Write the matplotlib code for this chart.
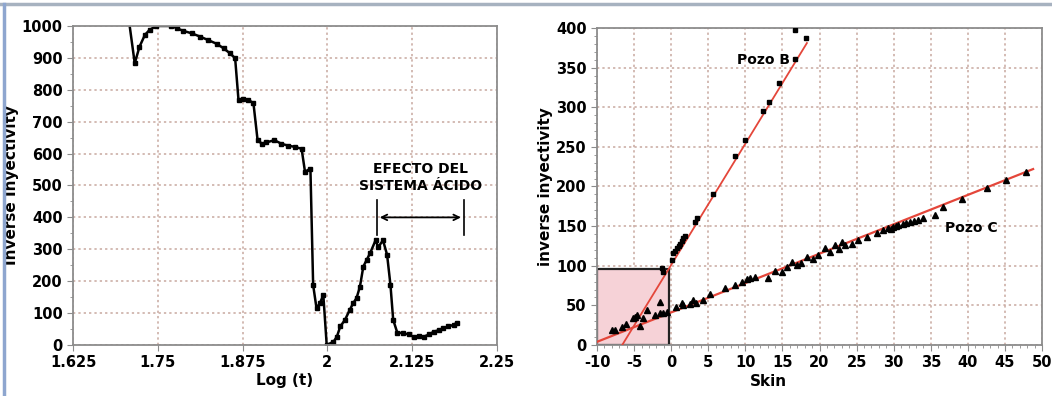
import matplotlib
matplotlib.use("Agg")
import matplotlib.pyplot as plt
from matplotlib.ticker import AutoMinorLocator, MultipleLocator
from matplotlib.lines import Line2D
from matplotlib.patches import Rectangle

plt.rcParams['font.family'] = ['Liberation Sans Narrow', 'DejaVu Sans']
plt.rcParams['axes.unicode_minus'] = False

# left panel: inverse injectivity vs log(t)
log_t = [1.706, 1.716, 1.723, 1.731, 1.738, 1.748, 1.770, 1.778, 1.787, 1.800,
         1.812, 1.824, 1.837, 1.847, 1.856, 1.864, 1.869, 1.876, 1.883, 1.891,
         1.897, 1.903, 1.910, 1.922, 1.932, 1.942, 1.952, 1.962, 1.967, 1.975,
         1.979, 1.984, 1.989, 1.994, 1.999, 2.009, 2.014, 2.019, 2.026, 2.033,
         2.038, 2.043, 2.048, 2.053, 2.058, 2.063, 2.071, 2.075, 2.082, 2.088,
         2.093, 2.097, 2.103, 2.112, 2.120, 2.127, 2.135, 2.142, 2.150, 2.157,
         2.164, 2.171, 2.178, 2.186, 2.191]
inv_inj = [1040, 883, 935, 972, 988, 1000, 1000, 993, 985, 977,
           967, 956, 944, 930, 915, 899, 767, 771, 769, 758,
           644, 631, 635, 642, 631, 625, 621, 615, 543, 553,
           188, 115, 131, 157, 0, 10, 26, 58, 79, 110,
           131, 147, 183, 246, 267, 288, 328, 307, 328, 283,
           188, 79, 39, 37, 33, 26, 28, 26, 33, 42,
           46, 52, 58, 63, 70]

left_xticks = [1.625, 1.75, 1.875, 2.0, 2.125, 2.25]
left_xlabels = ['1.625', '1.75', '1.875', '2', '2.125', '2.25']

# right panel: inverse injectivity vs skin
skin_b = [-1.2, -1.1, 0.1, 0.3, 0.5, 0.8, 1.0, 1.2, 1.4, 1.6, 1.9, 3.2, 3.5,
          5.6, 8.6, 10.0, 12.4, 13.2, 14.5, 16.7, 16.7, 18.2]
inv_b = [97, 92, 107, 116, 119, 123, 125, 128, 131, 135, 138, 155, 160,
         190, 238, 259, 295, 307, 330, 361, 397, 387]

skin_c = [-8.0, -7.6, -6.6, -6.1, -5.1, -4.9, -4.6, -4.2, -3.8, -3.3, -2.2,
          -1.5, -1.5, -1.1, -0.6, 0.6, 1.5, 1.6, 2.5, 2.9, 3.3, 4.3, 5.2,
          7.3, 8.6, 9.5, 10.2, 10.6, 11.3, 13.0, 14.0, 14.9, 15.6, 16.3, 16.9,
          17.5, 18.3, 19.1, 19.8, 20.7, 21.4, 22.1, 22.6, 23.0, 23.4, 24.4,
          25.2, 26.4, 27.7, 28.5, 29.2, 29.6, 29.9, 30.3, 30.6, 31.2, 31.7,
          32.2, 32.8, 33.3, 33.9, 35.6, 36.6, 39.2, 42.6, 45.1, 47.8]
inv_c = [19, 19, 23, 26, 34, 35, 38, 24, 34, 44, 38,
         40, 54, 40, 42, 48, 53, 50, 52, 57, 53, 57, 64,
         72, 76, 80, 83, 84, 86, 84, 94, 92, 98, 105, 101,
         104, 111, 109, 113, 122, 117, 126, 121, 130, 126, 128,
         132, 136, 141, 145, 147, 146, 149, 150, 151, 153, 154,
         155, 157, 158, 160, 164, 174, 184, 198, 208, 218]

fit_b_x = [-6.6, 18.3]
fit_b_y = [0, 381]
fit_c_x = [-10, 48.8]
fit_c_y = [4, 222]

grid_color = '#c8a89f'
spine_color = '#8c8c8c'
red = '#e4463a'

fig = plt.figure(figsize=(10.52, 3.96), dpi=100)

# decorative frame of the original page
fig.add_artist(Line2D([0, 1], [0.99, 0.99], color='#a7b2c0', lw=2.5))
fig.add_artist(Line2D([0.004, 0.004], [0, 0.99], color='#8ea6cf', lw=2.5))

# ---- left panel
ax1 = fig.add_axes([0.0694, 0.1288, 0.403, 0.8056])
ax1.plot(log_t, inv_inj, color='black', lw=1.8, marker='s', ms=3.2)
ax1.set_xlim(1.625, 2.25)
ax1.set_ylim(0, 1000)
ax1.set_xticks(left_xticks)
ax1.set_xticklabels(left_xlabels)
ax1.yaxis.set_major_locator(MultipleLocator(100))
ax1.yaxis.set_minor_locator(AutoMinorLocator(2))
ax1.set_xlabel('Log (t)', fontsize=11, fontweight='bold')
ax1.xaxis.set_label_coords(0.5, -0.088)
ax1.set_ylabel('Inverse Inyectivity', fontsize=11, fontweight='bold',
               family=['DejaVu Sans'])
ax1.yaxis.set_label_coords(-0.128, 0.5)

# effect of the acid system
ax1.annotate('', xy=(2.073, 400), xytext=(2.201, 400),
             arrowprops=dict(arrowstyle='<->', color='black', lw=1.3))
ax1.plot([2.073, 2.073], [345, 455], color='black', lw=1.2)
ax1.plot([2.201, 2.201], [345, 455], color='black', lw=1.2)
ax1.text(2.137, 525, 'EFECTO DEL\nSISTEMA ÁCIDO', ha='center', va='center',
         fontsize=10, fontweight='bold', linespacing=1.2)

# ---- right panel
ax2 = fig.add_axes([0.5675, 0.1288, 0.423, 0.8005])
ax2.add_patch(Rectangle((-10, 0), 9.7, 96, facecolor='#f6d2d7',
                        edgecolor='#222222', lw=1.6, zorder=1))
ax2.plot(fit_b_x, fit_b_y, color=red, lw=1.3, zorder=3)
ax2.plot(fit_c_x, fit_c_y, color=red, lw=1.6, zorder=3)
ax2.plot(skin_b, inv_b, ls='none', marker='s', ms=3.5, color='black', zorder=4)
ax2.plot(skin_c, inv_c, ls='none', marker='^', ms=3.8, color='black', zorder=4)
ax2.text(12.4, 359, 'Pozo B', ha='center', va='center', fontsize=10, fontweight='bold')
ax2.text(40.5, 147, 'Pozo C', ha='center', va='center', fontsize=10, fontweight='bold')
ax2.set_xlim(-10, 50)
ax2.set_ylim(0, 400)
ax2.xaxis.set_major_locator(MultipleLocator(5))
ax2.xaxis.set_minor_locator(AutoMinorLocator(5))
ax2.yaxis.set_major_locator(MultipleLocator(50))
ax2.yaxis.set_minor_locator(AutoMinorLocator(5))
ax2.set_xlabel('Skin', fontsize=11, fontweight='bold')
ax2.xaxis.set_label_coords(0.385, -0.092)
ax2.set_ylabel('inverse inyectivity', fontsize=11, fontweight='bold',
               family=['DejaVu Sans'])
ax2.yaxis.set_label_coords(-0.098, 0.5)

for ax in (ax1, ax2):
    ax.grid(True, which='major', ls=(0, (1.5, 2)), color=grid_color, lw=1.1)
    ax.set_axisbelow(True)
    for s in ax.spines.values():
        s.set_color(spine_color)
        s.set_linewidth(1.3)
    ax.tick_params(which='major', length=4, color=spine_color, direction='out')
    ax.tick_params(which='minor', length=2.5, color=spine_color, direction='out')
    for lab in ax.get_xticklabels() + ax.get_yticklabels():
        lab.set_fontsize(10.5)
        lab.set_fontweight('bold')

fig.savefig('out.png', dpi=100)
